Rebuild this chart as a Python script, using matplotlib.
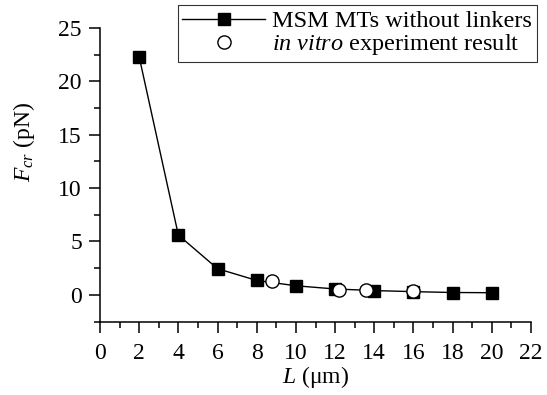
import numpy as np
import matplotlib
matplotlib.use("Agg")
import matplotlib.pyplot as plt
from matplotlib.ticker import MultipleLocator

# MSM simulation (squares) and experiment (open circles)
L_msm = [2, 4, 6, 8, 10, 12, 14, 16, 18, 20]
F_msm = [22.3, 5.6, 2.45, 1.35, 0.85, 0.55, 0.4, 0.3, 0.22, 0.2]
L_exp = [8.8, 12.2, 13.6, 16.0]
F_exp = [1.3, 0.5, 0.45, 0.38]

plt.rcParams['font.family'] = ['Liberation Serif', 'DejaVu Serif']
plt.rcParams['mathtext.fontset'] = 'custom'
plt.rcParams['mathtext.rm'] = 'Liberation Serif'
plt.rcParams['mathtext.it'] = 'Liberation Serif:italic'

fig = plt.figure(figsize=(5.47, 3.95), dpi=100)
ax = fig.add_axes([0.1828, 0.186, 0.788, 0.743])

ax.plot(L_msm, F_msm, color='black', lw=1.0, marker='s', ms=8.8,
        mfc='black', mec='black', label='MSM MTs without linkers', zorder=2)
ax.plot(L_exp, F_exp, ls='none', marker='o', ms=9.5, mfc='white',
        mec='black', mew=1.0, label='$in\\ vitro$ experiment result', zorder=3)

ax.set_xlim(0, 22)
ax.set_ylim(-2.5, 25)
ax.xaxis.set_major_locator(MultipleLocator(2))
ax.xaxis.set_minor_locator(MultipleLocator(1))
ax.yaxis.set_major_locator(MultipleLocator(5))
ax.yaxis.set_minor_locator(MultipleLocator(2.5))
ax.tick_params(which='major', length=8, width=1.1, labelsize=17, pad=5,
               direction='out')
ax.tick_params(axis='x', which='major', pad=7.5)
ax.tick_params(which='minor', length=4.5, width=1.1, direction='out')
for s in ['left', 'bottom']:
    ax.spines[s].set_linewidth(1.1)
ax.spines['top'].set_visible(False)
ax.spines['right'].set_visible(False)

ax.set_xlabel('$L$ (\u03bcm)', fontsize=17, labelpad=0)
ax.set_ylabel('$F_{cr}$ (pN)', fontsize=17)
ax.yaxis.set_label_coords(-0.146, 0.611)

leg = ax.legend(loc='upper right', bbox_to_anchor=(1.014, 1.078), fontsize=17.5,
                frameon=True, fancybox=False, edgecolor='black',
                handlelength=3.4, handletextpad=0.3, borderpad=0.2,
                labelspacing=0.0, borderaxespad=0)
leg.get_frame().set_linewidth(0.8)

fig.savefig('out.png', dpi=100)
